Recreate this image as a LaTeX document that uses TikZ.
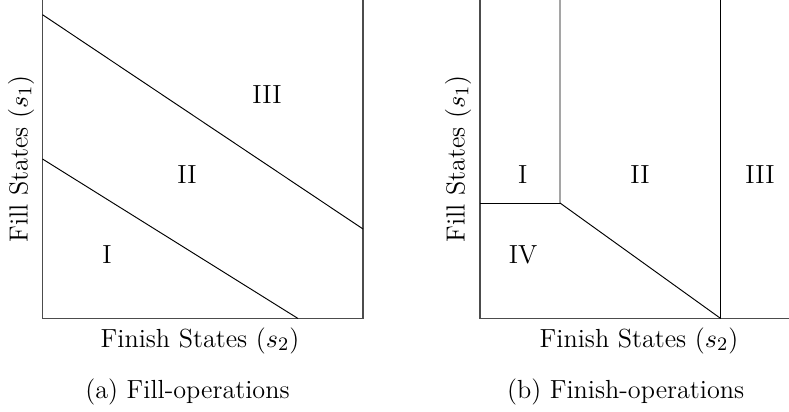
\documentclass[tikz,border=0pt]{standalone}
\begin{document}
\begin{tikzpicture}[x=0.42pt,y=-0.42pt,
  axisline/.style={draw=black!70,line width=0.5pt},
  boundary/.style={draw=black,line width=0.4pt},
  region/.style={font=\fontsize{11}{13}\selectfont,inner sep=0pt},
  axislabel/.style={font=\fontsize{11}{13}\selectfont,inner sep=0pt},
  captiontext/.style={font=\fontsize{11}{13}\selectfont,inner sep=0pt}]
\useasboundingbox (0,0) rectangle (789,412);

% ---- (a) Fill-operations ----
\coordinate (a-top-left) at (42.5,0);
\coordinate (a-origin) at (42.5,318.5);
\coordinate (a-bottom-right) at (363,318.5);
\coordinate (a-top-right) at (363,0);
\coordinate (a-up-start) at (42.5,14.7);
\coordinate (a-up-end) at (363,229);
\coordinate (a-low-start) at (42.5,159);
\coordinate (a-low-end) at (298,318.5);

\draw[axisline] (a-top-left) -- (a-origin) -- (a-bottom-right) -- (a-top-right);
\draw[boundary] (a-up-start) -- (a-up-end);
\draw[boundary] (a-low-start) -- (a-low-end);

\node[region] (a-r3) at (267,95) {III};
\node[region] (a-r2) at (187,175) {II};
\node[region] (a-r1) at (107,255) {I};

\node[axislabel,rotate=90] (a-ylabel) at (21,159) {Fill States ($s_1$)};
\node[axislabel] (a-xlabel) at (200,340.5) {Finish States ($s_2$)};
\node[captiontext] (a-caption) at (187.5,392) {(a) Fill-operations};

% ---- (b) Finish-operations ----
\coordinate (b-top-left) at (480,0);
\coordinate (b-origin) at (480,318.5);
\coordinate (b-bottom-right) at (789,318.5);
\coordinate (b-split-top) at (560,0);
\coordinate (b-split) at (560,203);
\coordinate (b-edge) at (480,203);
\coordinate (b-right-top) at (720.7,0);
\coordinate (b-right-foot) at (720.7,318.5);

\draw[axisline] (b-top-left) -- (b-origin) -- (b-bottom-right);
\draw[boundary] (b-edge) -- (b-split);
\draw[boundary] (b-split-top) -- (b-split) -- (b-right-foot);
\draw[boundary] (b-right-top) -- (b-right-foot);

\node[region] (b-r1) at (522.7,175) {I};
\node[region] (b-r2) at (640,175) {II};
\node[region] (b-r3) at (760,175) {III};
\node[region] (b-r4) at (523,255) {IV};

\node[axislabel,rotate=90] (b-ylabel) at (458,159) {Fill States ($s_1$)};
\node[axislabel] (b-xlabel) at (639,340.5) {Finish States ($s_2$)};
\node[captiontext] (b-caption) at (625.7,392) {(b) Finish-operations};
\end{tikzpicture}
\end{document}
